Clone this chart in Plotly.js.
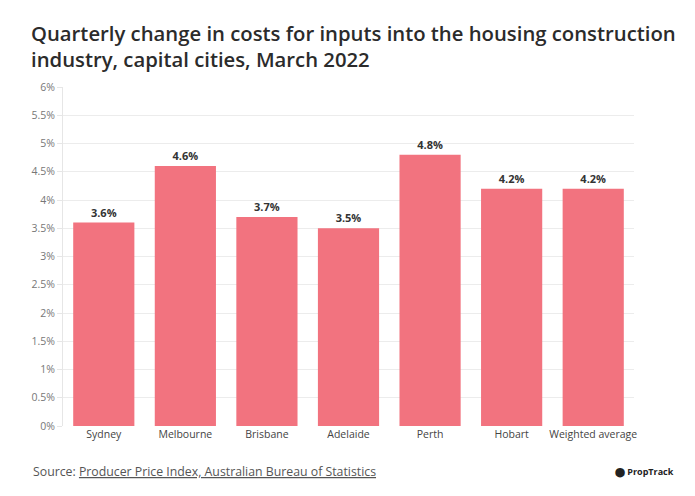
<!DOCTYPE html>
<html><head><meta charset="utf-8">
<script src="https://cdn.plot.ly/plotly-3.0.1.min.js"></script>
<style>html,body{margin:0;padding:0;background:#fff;}#chart{width:695px;height:496px;}</style>
</head><body><div id="chart"></div>
<script>
const categories = ["Sydney","Melbourne","Brisbane","Adelaide","Perth","Hobart","Weighted average"];
const values = [3.6, 4.6, 3.7, 3.5, 4.8, 4.2, 4.2];
const tickVals = [0,0.5,1,1.5,2,2.5,3,3.5,4,4.5,5,5.5,6];
const tickText = tickVals.map(v => v + "%");
const labels = values.map(v => v.toFixed(1) + "%");
const FONT = "Open Sans, Noto Sans, sans-serif";

const trace = {
  type: "bar", x: categories, y: values,
  marker: {color: "#f2737f"},
  text: labels, textposition: "outside", cliponaxis: false,
  textfont: {family: FONT, size: 11, color: "#333", weight: 700},
  hoverinfo: "skip"
};
const layout = {
  width: 695, height: 496,
  margin: {l: 63, r: 61, t: 87, b: 70},
  paper_bgcolor: "#fff", plot_bgcolor: "#fff",
  bargap: 0.25,
  showlegend: false,
  font: {family: FONT, color: "#555"},
  title: {text: "Quarterly change in costs for inputs into the housing construction<br>industry, capital cities, March 2022",
    x: 31/695, xanchor: "left", xref: "container", y: 1 - 41/496, yanchor: "top", yref: "container",
    font: {family: FONT, size: 20.3, color: "#2b2b2b", weight: 600}},
  xaxis: {type: "category", showgrid: false, zeroline: false, showline: false,
    ticks: "", tickfont: {family: FONT, size: 10.5, color: "#444"}},
  yaxis: {range: [0, 6], tickvals: tickVals, ticktext: tickText,
    showgrid: true, gridcolor: "#ececec", gridwidth: 1, zeroline: false,
    showline: true, linecolor: "#e6e6e6", linewidth: 1,
    ticks: "outside", ticklen: 5, tickcolor: "#e6e6e6",
    tickfont: {family: FONT, size: 10.5, color: "#777"}},
  annotations: [
    {xref: "paper", yref: "paper", x: -32/571, y: -46/339, xanchor: "left", yanchor: "middle", showarrow: false,
     text: "Source: <u>Producer Price Index, Australian Bureau of Statistics</u>",
     font: {family: FONT, size: 12.3, color: "#555"}},
    {xref: "paper", yref: "paper", x: 1 + 42/571, y: -46/339, xanchor: "right", yanchor: "middle", showarrow: false,
     text: "<b>⬤ PropTrack</b>",
     font: {family: FONT, size: 9, color: "#222"}}
  ]
};
Plotly.newPlot("chart", [trace], layout, {displayModeBar: false, staticPlot: true});
</script></body></html>
